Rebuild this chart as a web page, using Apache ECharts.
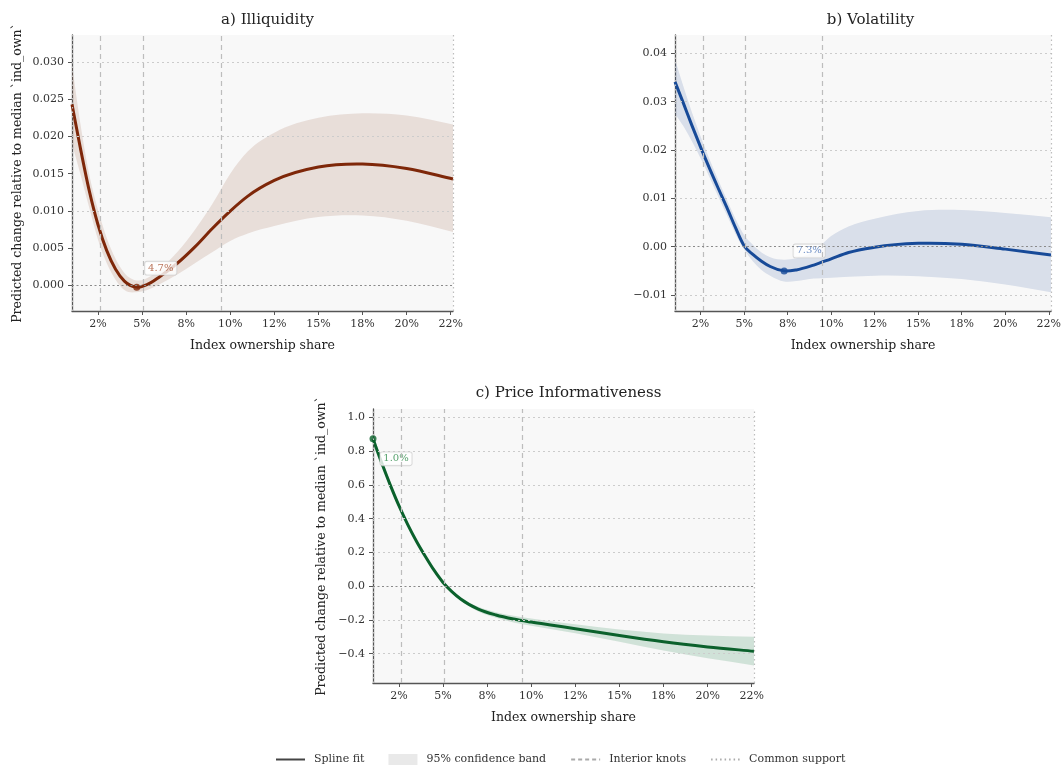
<!DOCTYPE html>
<html>
<head>
<meta charset="utf-8">
<script src="https://cdn.jsdelivr.net/npm/echarts@6/dist/echarts.min.js"></script>
<style>
html,body{margin:0;padding:0;background:#fff;}
#chart{width:1064px;height:767px;}
</style>
</head>
<body>
<div id="chart"></div>
<script>
// ---------- shared axis data ----------
const xMin = 1.03, xMax = 22.63;
const xTickValues = [2.5, 5, 7.5, 10, 12.5, 15, 17.5, 20, 22.5];
const xTickLabels = ['2%', '5%', '8%', '10%', '12%', '15%', '18%', '20%', '22%'];
const knots = [2.63, 5.08, 9.49];
const supportBounds = [1.03, 22.63];

// ---------- a) Illiquidity ----------
const xA = [1.03, 1.5, 2.0, 2.5, 3.0, 3.5, 4.0, 4.7, 5.5, 6.0, 7.0, 8.0, 9.0, 10, 11, 12.5, 15, 17.5, 20, 22.63];
const fitA = [0.0243, 0.0185, 0.0128, 0.0082, 0.0047, 0.0022, 0.0006, -0.0002, 0.0004, 0.0012, 0.0030, 0.0052, 0.0077, 0.0100, 0.0120, 0.0141, 0.0159, 0.0163, 0.0157, 0.0143];
const upperA = [0.0296, 0.0218, 0.0150, 0.0102, 0.0064, 0.0036, 0.0017, 0.0007, 0.0013, 0.0022, 0.0045, 0.0075, 0.0110, 0.0150, 0.0180, 0.0205, 0.0225, 0.0231, 0.0228, 0.0216];
const lowerA = [0.0190, 0.0150, 0.0105, 0.0062, 0.0030, 0.0008, -0.0006, -0.0009, -0.0004, 0.0002, 0.0015, 0.0030, 0.0045, 0.0060, 0.0070, 0.0080, 0.0092, 0.0094, 0.0087, 0.0072];
const yTicksA = [0, 0.005, 0.010, 0.015, 0.020, 0.025, 0.030];
const yTickLabelsA = ['0.000', '0.005', '0.010', '0.015', '0.020', '0.025', '0.030'];
const yRangeA = [-0.0034, 0.0336];
const minPointA = [4.7, -0.0002];
const minLabelA = '4.7%';

// ---------- b) Volatility ----------
const xB = [1.03, 1.5, 2.0, 2.5, 3.0, 3.5, 4.0, 4.5, 5.0, 5.5, 6.0, 6.5, 7.3, 8.0, 9.0, 10, 11, 12.5, 15, 17.5, 20, 22.63];
const fitB = [0.0341, 0.0298, 0.0251, 0.0206, 0.0163, 0.0122, 0.0082, 0.0040, 0.0002, -0.0016, -0.0030, -0.0041, -0.0050, -0.0048, -0.0038, -0.0025, -0.0012, -0.0001, 0.0007, 0.0005, -0.0005, -0.0017];
const upperB = [0.0388, 0.0333, 0.0278, 0.0228, 0.0182, 0.0139, 0.0098, 0.0058, 0.0024, 0.0004, -0.0012, -0.0022, -0.0027, -0.0024, -0.0010, 0.0022, 0.0042, 0.0058, 0.0074, 0.0076, 0.0070, 0.0061];
const lowerB = [0.0275, 0.0250, 0.0218, 0.0183, 0.0145, 0.0105, 0.0066, 0.0027, -0.0006, -0.0030, -0.0048, -0.0060, -0.0072, -0.0071, -0.0066, -0.0064, -0.0062, -0.0060, -0.0061, -0.0067, -0.0078, -0.0094];
const yTicksB = [-0.01, 0, 0.01, 0.02, 0.03, 0.04];
const yTickLabelsB = ['\u22120.01', '0.00', '0.01', '0.02', '0.03', '0.04'];
const yRangeB = [-0.0133, 0.0438];
const minPointB = [7.3, -0.0050];
const minLabelB = '7.3%';

// ---------- c) Price Informativeness ----------
const xC = [1.03, 1.5, 2.0, 2.5, 3.0, 3.5, 4.0, 4.5, 5.0, 5.5, 6.0, 7.0, 8.0, 9.0, 10, 11, 12.5, 15, 17.5, 20, 22.63];
const fitC = [0.873, 0.737, 0.602, 0.477, 0.365, 0.265, 0.176, 0.093, 0.022, -0.032, -0.076, -0.136, -0.171, -0.195, -0.213, -0.229, -0.252, -0.293, -0.330, -0.360, -0.386];
const upperC = [0.905, 0.762, 0.620, 0.493, 0.378, 0.276, 0.186, 0.102, 0.030, -0.024, -0.067, -0.122, -0.154, -0.175, -0.192, -0.206, -0.226, -0.257, -0.280, -0.293, -0.300];
const lowerC = [0.840, 0.712, 0.584, 0.461, 0.352, 0.254, 0.166, 0.084, 0.014, -0.040, -0.085, -0.150, -0.188, -0.215, -0.235, -0.253, -0.279, -0.330, -0.382, -0.428, -0.470];
const yTicksC = [-0.4, -0.2, 0, 0.2, 0.4, 0.6, 0.8, 1.0];
const yTickLabelsC = ['\u22120.4', '\u22120.2', '0.0', '0.2', '0.4', '0.6', '0.8', '1.0'];
const yRangeC = [-0.574, 1.05];
const minPointC = [1.03, 0.873];
const minLabelC = '1.0%';

const titles = ['a) Illiquidity', 'b) Volatility', 'c) Price Informativeness'];
const yName = 'Predicted change relative to median `ind_own`';
const xName = 'Index ownership share';
const legendNames = ['Spline fit', '95% confidence band', 'Interior knots', 'Common support'];

// ---------- styling ----------
const FONT = 'DejaVu Serif';
const AXIS_COLOR = '#555';
const grids = [
  {left: 72, top: 35, width: 381, height: 276},
  {left: 675, top: 35, width: 381, height: 276},
  {left: 373, top: 409, width: 381, height: 274}
];
const panels = [
  {x: xA, fit: fitA, up: upperA, lo: lowerA, yt: yTicksA, yl: yTickLabelsA, yr: yRangeA, mp: minPointA, ml: minLabelA,
   line: '#7e2709', band: 'rgba(127,39,4,0.12)', lab: '#a9502f', off: [24, -19], yName: true, nameGap: 48},
  {x: xB, fit: fitB, up: upperB, lo: lowerB, yt: yTicksB, yl: yTickLabelsB, yr: yRangeB, mp: minPointB, ml: minLabelB,
   line: '#174a98', band: 'rgba(30,70,150,0.14)', lab: '#4a73b8', off: [25, -20], yName: false, nameGap: 48},
  {x: xC, fit: fitC, up: upperC, lo: lowerC, yt: yTicksC, yl: yTickLabelsC, yr: yRangeC, mp: minPointC, ml: minLabelC,
   line: '#0b612c', band: 'rgba(0,110,50,0.16)', lab: '#2e8b4a', off: [23, 20], yName: true, nameGap: 45}
];

function lookup(vals, labels) {
  return function (v) {
    const i = vals.findIndex(t => Math.abs(t - v) < 1e-9);
    return i >= 0 ? labels[i] : '';
  };
}
function zip(xs, ys) { return xs.map((x, i) => [x, ys[i]]); }

// tangents for a smooth cubic Hermite curve through the data points
function tangents(xs, ys) {
  const n = xs.length, m = new Array(n);
  for (let i = 0; i < n; i++) {
    if (i === 0) m[i] = (ys[1] - ys[0]) / (xs[1] - xs[0]);
    else if (i === n - 1) m[i] = (ys[n - 1] - ys[n - 2]) / (xs[n - 1] - xs[n - 2]);
    else {
      const h0 = xs[i] - xs[i - 1], h1 = xs[i + 1] - xs[i];
      const d0 = (ys[i] - ys[i - 1]) / h0, d1 = (ys[i + 1] - ys[i]) / h1;
      m[i] = (d0 * h1 + d1 * h0) / (h0 + h1);
    }
  }
  return m;
}
// path commands (pixel coords via api.coord) going forward or backward
function curveCmds(api, xs, ys, forward, startCmd) {
  const m = tangents(xs, ys), n = xs.length, P = v => api.coord(v);
  const f = p => p[0].toFixed(2) + ' ' + p[1].toFixed(2);
  let d = '';
  if (forward) {
    d += startCmd + f(P([xs[0], ys[0]]));
    for (let i = 0; i < n - 1; i++) {
      const h = xs[i + 1] - xs[i];
      const c1 = P([xs[i] + h / 3, ys[i] + m[i] * h / 3]);
      const c2 = P([xs[i + 1] - h / 3, ys[i + 1] - m[i + 1] * h / 3]);
      d += ' C' + [c1, c2, P([xs[i + 1], ys[i + 1]])].map(f).join(' ');
    }
  } else {
    d += startCmd + f(P([xs[n - 1], ys[n - 1]]));
    for (let i = n - 2; i >= 0; i--) {
      const h = xs[i + 1] - xs[i];
      const c1 = P([xs[i + 1] - h / 3, ys[i + 1] - m[i + 1] * h / 3]);
      const c2 = P([xs[i] + h / 3, ys[i] + m[i] * h / 3]);
      d += ' C' + [c1, c2, P([xs[i], ys[i]])].map(f).join(' ');
    }
  }
  return d;
}

const xAxes = [], yAxes = [], series = [], titleOpts = [];
panels.forEach((p, k) => {
  const g = grids[k];
  titleOpts.push({
    text: titles[k], left: g.left + g.width / 2, top: k === 2 ? 381 : 8, textAlign: 'center',
    textStyle: {fontFamily: FONT, fontSize: 15, fontWeight: 'normal', color: '#222'}
  });
  xAxes.push({
    type: 'value', gridIndex: k, min: xMin, max: xMax,
    name: xName, nameLocation: 'middle', nameGap: 28,
    nameTextStyle: {fontFamily: FONT, fontSize: 12.5, color: '#222'},
    axisLine: {show: true, onZero: false, lineStyle: {color: AXIS_COLOR, width: 1.3}},
    axisTick: {show: true, length: 4, customValues: xTickValues, lineStyle: {color: AXIS_COLOR, width: 1}},
    axisLabel: {customValues: xTickValues, formatter: lookup(xTickValues, xTickLabels), margin: 8,
      fontFamily: FONT, fontSize: 11, color: '#333'},
    splitLine: {show: false}
  });
  yAxes.push({
    type: 'value', gridIndex: k, min: p.yr[0], max: p.yr[1],
    name: p.yName ? yName : '', nameLocation: 'middle', nameGap: p.nameGap,
    nameTextStyle: {fontFamily: FONT, fontSize: 12.5, color: '#222'},
    axisLine: {show: true, onZero: false, lineStyle: {color: AXIS_COLOR, width: 1.3}},
    axisTick: {show: true, length: 4, customValues: p.yt, lineStyle: {color: AXIS_COLOR, width: 1}},
    axisLabel: {customValues: p.yt, formatter: lookup(p.yt, p.yl), margin: 8,
      fontFamily: FONT, fontSize: 11, color: '#333'},
    splitLine: {show: false}
  });
  const ml = [];
  p.yt.forEach(v => {
    if (v !== 0) ml.push({yAxis: v, lineStyle: {type: [2, 3], color: '#cccccc', width: 1}});
  });
  knots.forEach(v => ml.push({xAxis: v, lineStyle: {type: [5, 4], color: '#bdbdbd', width: 1.2}}));
  supportBounds.forEach(v => ml.push({xAxis: v, lineStyle: {type: [1.5, 3], color: '#bdbdbd', width: 1.2}}));
  ml.push({yAxis: 0, lineStyle: {type: [2, 2.5], color: '#8a8a8a', width: 1.2}});
  // carrier of reference lines (invisible line)
  series.push({
    type: 'line', xAxisIndex: k, yAxisIndex: k, data: zip(p.x, p.fit), symbol: 'none',
    lineStyle: {opacity: 0}, silent: true, z: 1,
    markLine: {silent: true, symbol: ['none', 'none'], label: {show: false}, animation: false, data: ml}
  });
  // confidence band
  series.push({
    type: 'custom', xAxisIndex: k, yAxisIndex: k, data: zip(p.x, p.up), silent: true, z: 2,
    encode: {x: 0, y: 1},
    renderItem: (params, api) => {
      if (params.dataIndex !== 0) return null;
      const d = curveCmds(api, p.x, p.up, true, 'M') + ' ' + curveCmds(api, p.x, p.lo, false, 'L') + ' Z';
      return {type: 'path', shape: {pathData: d}, style: {fill: p.band, stroke: null}};
    }
  });
  // spline fit
  series.push({
    type: 'custom', xAxisIndex: k, yAxisIndex: k, data: zip(p.x, p.fit), silent: true, z: 3,
    encode: {x: 0, y: 1},
    renderItem: (params, api) => {
      if (params.dataIndex !== 0) return null;
      const d = curveCmds(api, p.x, p.fit, true, 'M');
      return {type: 'path', shape: {pathData: d},
        style: {fill: null, stroke: p.line, lineWidth: 3, lineJoin: 'round', lineCap: 'butt'}};
    }
  });
  // minimum marker
  series.push({
    type: 'scatter', xAxisIndex: k, yAxisIndex: k, data: [p.mp], symbolSize: 7,
    itemStyle: {color: p.line}, z: 4, silent: true,
    label: {show: true, position: 'inside', offset: p.off, formatter: p.ml, color: p.lab,
      fontFamily: FONT, fontSize: 10, backgroundColor: '#fff', borderColor: '#cccccc', borderWidth: 0.8,
      borderRadius: 2, padding: [2, 3, 1, 3]}
  });
});

// legend dummy series
series.push({name: legendNames[0], type: 'line', xAxisIndex: 0, yAxisIndex: 0, data: [], symbol: 'none',
  lineStyle: {color: '#444', width: 3}, itemStyle: {color: '#444'}});
series.push({name: legendNames[1], type: 'line', xAxisIndex: 0, yAxisIndex: 0, data: [], symbol: 'none',
  lineStyle: {color: '#e9e9e9', width: 0}, itemStyle: {color: '#e9e9e9'}});
series.push({name: legendNames[2], type: 'line', xAxisIndex: 0, yAxisIndex: 0, data: [], symbol: 'none',
  lineStyle: {color: '#aaaaaa', width: 1.2, type: [4, 3]}, itemStyle: {color: '#aaaaaa'}});
series.push({name: legendNames[3], type: 'line', xAxisIndex: 0, yAxisIndex: 0, data: [], symbol: 'none',
  lineStyle: {color: '#aaaaaa', width: 1.2, type: [1.5, 3]}, itemStyle: {color: '#aaaaaa'}});

const chart = echarts.init(document.getElementById('chart'), null, {renderer: 'canvas'});
chart.setOption({
  animation: false,
  backgroundColor: '#ffffff',
  textStyle: {fontFamily: FONT},
  title: titleOpts,
  grid: grids.map(g => Object.assign({show: true, backgroundColor: '#f8f8f8', borderWidth: 0}, g)),
  xAxis: xAxes,
  yAxis: yAxes,
  legend: {
    top: 749, left: 270, itemWidth: 29, itemHeight: 11, itemGap: 24,
    textStyle: {fontFamily: FONT, fontSize: 11, color: '#333', padding: [0, 0, 0, 4]},
    data: [
      {name: legendNames[0], itemStyle: {opacity: 0}},
      {name: legendNames[1], icon: 'rect', itemStyle: {color: '#e9e9e9'}},
      {name: legendNames[2], itemStyle: {opacity: 0}},
      {name: legendNames[3], itemStyle: {opacity: 0}}
    ],
    selectedMode: false
  },
  series: series
});
</script>
</body>
</html>
